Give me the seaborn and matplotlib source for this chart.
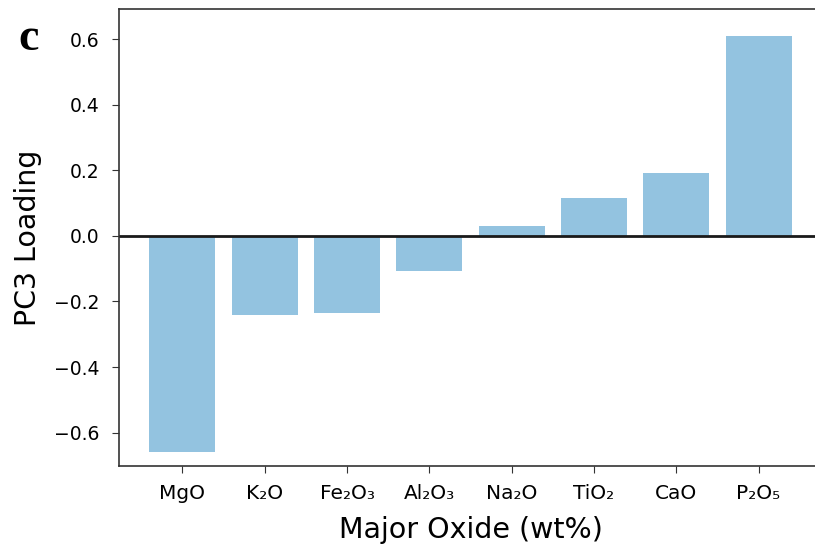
import pandas as pd
import seaborn as sns
import matplotlib.pyplot as plt

oxides = ["MgO", "K₂O", "Fe₂O₃", "Al₂O₃", "Na₂O", "TiO₂", "CaO", "P₂O₅"]
loadings = [-0.660, -0.242, -0.236, -0.107, 0.030, 0.115, 0.192, 0.610]

df = pd.DataFrame({"Oxide": oxides, "Loading": loadings})

fig = plt.figure(figsize=(8.15, 5.49), dpi=100)
ax = fig.add_axes([0.146, 0.151, 0.8626, 0.832])

sns.barplot(data=df, x="Oxide", y="Loading", color="#93c3e0", saturation=1,
            width=0.8, edgecolor="none", ax=ax)
ax.axhline(0, color="#1a1a1a", lw=2)

ax.set_xlim(-0.77, 7.77)
ax.set_ylim(-0.702, 0.691)
ax.set_yticks([-0.6, -0.4, -0.2, 0.0, 0.2, 0.4, 0.6])

ax.set_xlabel("Major Oxide (wt%)", fontsize=20.5, labelpad=9)
ax.set_ylabel("PC3 Loading", fontsize=20.5, labelpad=9)
ax.tick_params(axis="y", labelsize=13.5, pad=9, length=5, color="#333333")
ax.tick_params(axis="x", labelsize=14.5, pad=8, length=5, color="#333333")
for s in ax.spines.values():
    s.set_color("#333333")
    s.set_linewidth(1.2)

fig.text(0.022, 0.909, "c", fontsize=33, fontweight="bold",
         family="Liberation Serif", va="baseline", ha="left")

fig.savefig("out.png", dpi=100)
